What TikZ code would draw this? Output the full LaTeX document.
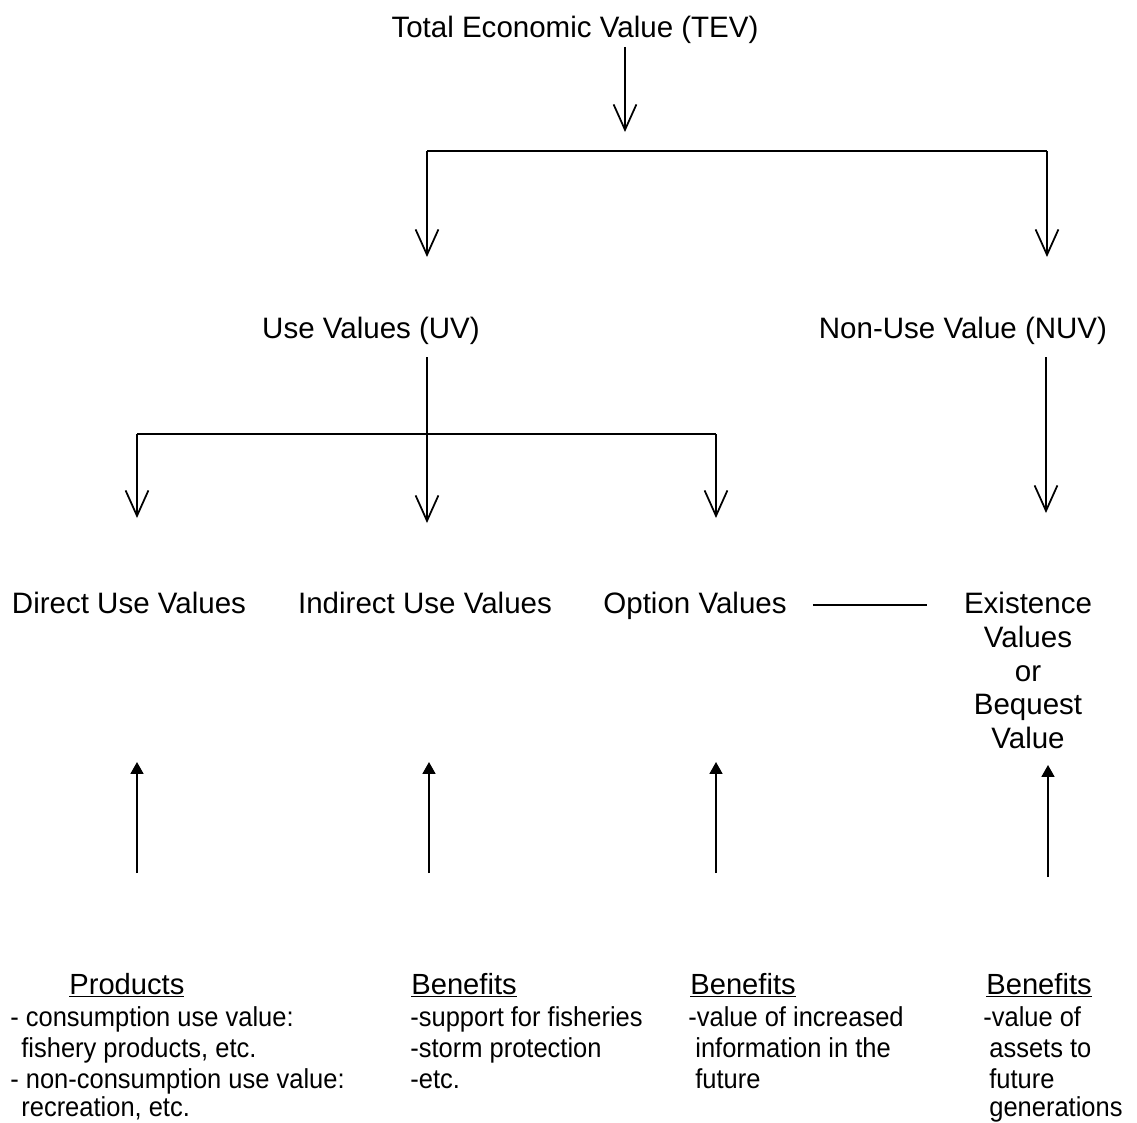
\documentclass[tikz,border=0pt]{standalone}
\usepackage{fontspec}
\setmainfont{Liberation Sans}
\newfontfamily\narrowfont[FakeStretch=0.93]{Liberation Sans}
\usetikzlibrary{arrows.meta}
\begin{document}
\begin{tikzpicture}[x=0.02cm,y=-0.02cm,
  big/.style={font=\fontsize{16.8}{19.3}\selectfont, inner sep=2pt},
  small/.style={font=\narrowfont\fontsize{15.6}{17.9}\selectfont, inner sep=0pt, anchor=base west},
  head/.style={font=\fontsize{16.6}{19.3}\selectfont, inner sep=0pt, anchor=base west},
  conn/.style={line width=1pt},
  down/.style={conn, -{Straight Barb[length=14.5pt,width=13pt,line width=1pt]}},
  up/.style={conn, -{Triangle[length=6.8pt,width=7.4pt]}}]
\useasboundingbox (0,0) rectangle (1137,1123);

% main nodes
\node[big,anchor=base] (tev) at (575,37) {Total Economic Value (TEV)};
\node[big,anchor=base] (uv) at (371,338) {Use Values (UV)};
\node[big,anchor=base] (nuv) at (963,338) {Non-Use Value (NUV)};
\node[big,anchor=base] (direct) at (129,613) {Direct Use Values};
\node[big,anchor=base] (indirect) at (425,613) {Indirect Use Values};
\node[big,anchor=base] (option) at (695,613) {Option Values};
\node[big,align=center,anchor=north] (exist) at (1028,588) {Existence\\Values\\or\\Bequest\\Value};

% TEV branch
\coordinate (tevtip) at (625,132);
\draw[down] (tevtip |- tev.south) -- (tevtip);
\coordinate (bl) at (427,151);
\coordinate (br) at (1047,151);
\coordinate (uvin) at (427,257);
\coordinate (nuvin) at (1047,257);
\draw[conn] (bl) -- (br);
\draw[down] (bl) -- (uvin);
\draw[down] (br) -- (nuvin);

% UV branch
\coordinate (uvout) at (427,357);
\coordinate (cl) at (137,434);
\coordinate (cr) at (716,434);
\coordinate (dirin) at (137,518);
\coordinate (indin) at (427,523);
\coordinate (optin) at (716,518);
\draw[down] (uvout) -- (indin);
\draw[conn] (cl) -- (cr);
\draw[down] (cl) -- (dirin);
\draw[down] (cr) -- (optin);

% NUV branch
\coordinate (nuvout) at (1046,357);
\coordinate (exin) at (1046,513);
\draw[down] (nuvout) -- (exin);

% option -- existence
\draw[conn, shorten <=12.8pt, shorten >=19pt] (option.east) -- (option.east -| exist.west);

% up arrows
\coordinate (dtail) at (137,873);  \coordinate (dtip) at (137,762);
\coordinate (itail) at (429,873);  \coordinate (itip) at (429,762);
\coordinate (otail) at (716,873);  \coordinate (otip) at (716,762);
\coordinate (etail) at (1048,877); \coordinate (etip) at (1048,765);
\draw[up] (dtail) -- (dtip);
\draw[up] (itail) -- (itip);
\draw[up] (otail) -- (otip);
\draw[up] (etail) -- (etip);

% bottom texts
\node[head] (prodh) at (69,994) {\underline{Products}};
\node[small] (p1) at (10,1026) {- consumption use value:};
\node[small] (p2) at (21,1057) {fishery products, etc.};
\node[small] (p3) at (10,1088) {- non-consumption use value:};
\node[small] (p4) at (21,1116) {recreation, etc.};

\node[head] (b1h) at (411,994) {\underline{Benefits}};
\node[small] (b1a) at (410,1026) {-support for fisheries};
\node[small] (b1b) at (410,1057) {-storm protection};
\node[small] (b1c) at (410,1088) {-etc.};

\node[head] (b2h) at (690,994) {\underline{Benefits}};
\node[small] (b2a) at (688,1026) {-value of increased};
\node[small] (b2b) at (695,1057) {information in the};
\node[small] (b2c) at (695,1088) {future};

\node[head] (b3h) at (986,994) {\underline{Benefits}};
\node[small] (b3a) at (983,1026) {-value of};
\node[small] (b3b) at (989,1057) {assets to};
\node[small] (b3c) at (989,1088) {future};
\node[small] (b3d) at (989,1116) {generations};
\end{tikzpicture}
\end{document}
